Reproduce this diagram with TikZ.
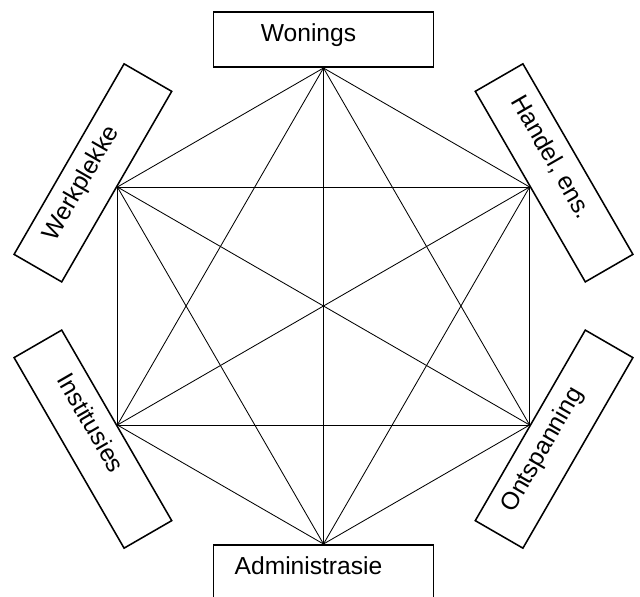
\documentclass[tikz,border=0pt]{standalone}
\usepackage{fontspec}
\newfontfamily\boxfont{Liberation Sans}
\tikzset{
    area box/.style={rectangle, draw, line width=1.1pt, minimum width=5.5cm, minimum height=1.375cm, inner sep=2pt, text height=0.45cm, text depth=0.35cm, font=\boxfont\fontsize{17.5pt}{20pt}\selectfont, execute at end node={\hspace*{0.75cm}}},
    link/.style={line width=0.6pt},
}

\begin{document}
\begin{tikzpicture}
    \useasboundingbox (-8.0875,-7.25) rectangle (7.9125,7.65);
    % hexagon corners
    \coordinate (v-won) at (90:5.95);
    \coordinate (v-han) at (30:5.95);
    \coordinate (v-ont) at (-30:5.95);
    \coordinate (v-adm) at (-90:5.95);
    \coordinate (v-ins) at (-150:5.95);
    \coordinate (v-wer) at (150:5.95);
    % boxes
    \node[area box, anchor=south] (wonings) at (v-won) {Wonings};
    \node[area box, rotate=-60, anchor=south] (handel) at (v-han) {Handel, ens.};
    \node[area box, rotate=60, anchor=north] (ontspanning) at (v-ont) {Ontspanning};
    \node[area box, anchor=north] (administrasie) at (v-adm) {Administrasie};
    \node[area box, rotate=-60, anchor=north] (institusies) at (v-ins) {Institusies};
    \node[area box, rotate=60, anchor=south] (werkplekke) at (v-wer) {Werkplekke};
    % links
    \path[link]
    (v-won) edge (v-han)
    (v-won) edge (v-ont)
    (v-won) edge (v-adm)
    (v-won) edge (v-ins)
    (v-won) edge (v-wer)
    (v-han) edge (v-ont)
    (v-han) edge (v-adm)
    (v-han) edge (v-ins)
    (v-han) edge (v-wer)
    (v-ont) edge (v-adm)
    (v-ont) edge (v-ins)
    (v-ont) edge (v-wer)
    (v-adm) edge (v-ins)
    (v-adm) edge (v-wer)
    (v-ins) edge (v-wer);
\end{tikzpicture}
\end{document}
